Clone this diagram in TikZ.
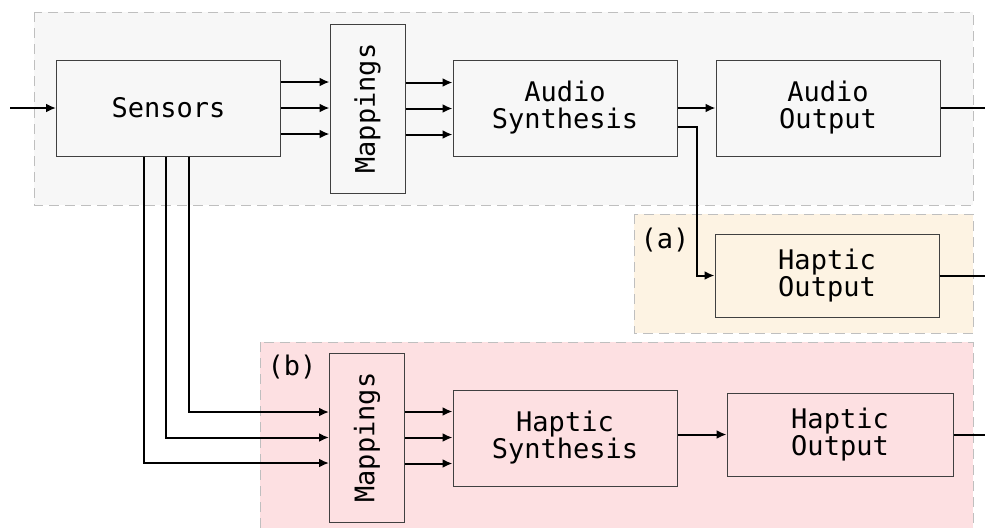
\documentclass[tikz,border=0pt]{standalone}
\usepackage{fontspec}
\usepackage{graphicx}
\newfontfamily\diagfont{DejaVu Sans Mono}
\usetikzlibrary{arrows.meta,positioning}

\definecolor{audiobg}{HTML}{F7F7F7}
\definecolor{hapticbg}{HTML}{FDF3E3}
\definecolor{mappedbg}{HTML}{FDE0E2}

\begin{document}
\begin{tikzpicture}[
  x=0.5pt, y=-0.5pt,
  box/.style={draw=black!75, line width=0.5pt, align=center, inner sep=0pt,
    font=\diagfont\fontsize{13.5}{13.5}\selectfont},
  wide/.style={box, minimum width=112pt, minimum height=48pt},
  flat/.style={box, minimum width=112pt, minimum height=41.5pt},
  map/.style={box, minimum width=37.5pt, minimum height=84.5pt},
  group/.style={draw=black!25, dash pattern=on 5pt off 3pt, line width=0.5pt},
  arrow/.style={-{Latex[length=5pt,width=4.5pt]}, line width=1pt},
  wire/.style={line width=1pt},
  tag/.style={font=\diagfont\fontsize{13.5}{13.5}\selectfont}
]
\useasboundingbox (0,0) rectangle (985,527);

% groups
\draw[group, fill=audiobg] (34,12) rectangle (973,205);
\draw[group, fill=hapticbg] (634,214) rectangle (973,333);
\draw[group, fill=mappedbg] (260,342) rectangle (973,540);
\node[tag] (taga) at (665,240) {(a)};
\node[tag] (tagb) at (292,367) {(b)};

% audio path
\node[wide] (sens) at (168.5,108) {Sensors};
\node[map] (mapa) at (367.5,108.5) {\rotatebox{90}{Mappings}};
\node[wide] (asyn) at (565,108) {Audio\\Synthesis};
\node[wide] (aout) at (828,108) {Audio\\Output};
\node[flat, fill=hapticbg] (hapa) at (827,275.5) {Haptic\\Output};

% haptic path
\node[map] (mapb) at (367,437.5) {\rotatebox{90}{Mappings}};
\node[wide] (hsyn) at (565,438) {Haptic\\Synthesis};
\node[flat, minimum width=113pt] (hapb) at (840,434.5) {Haptic\\Output};

\coordinate (in) at (10,108);
\coordinate (outa) at (985,108);
\coordinate (outb) at (985,275.5);
\coordinate (outc) at (985,434.5);

\draw[arrow] (in) -- (sens.west);
\foreach \s in {13pt,0pt,-13pt} {
  \draw[arrow] ([yshift=\s]sens.east) -- ([yshift=\s]sens.east -| mapa.west);
  \draw[arrow] ([yshift=\s]mapa.east) -- ([yshift=\s]mapa.east -| asyn.west);
  \draw[arrow] ([yshift=\s]mapb.east) -- ([yshift=\s]mapb.east -| hsyn.west);
}
\draw[arrow] (asyn.east) -- (aout.west);
\draw[arrow] ([yshift=-9.5pt]asyn.east) -- ++(9.5pt,0) |- (hapa.west);
\draw[arrow] (hsyn.east |- hapb.west) -- (hapb.west);

% sensor taps
\draw[arrow] ([xshift=10.25pt]sens.south) |- ([yshift=12.75pt]mapb.west);
\draw[arrow] ([xshift=-1.25pt]sens.south) |- (mapb.west);
\draw[arrow] ([xshift=-12.25pt]sens.south) |- ([yshift=-12.75pt]mapb.west);

% outputs
\draw[wire] (aout.east) -- (outa);
\draw[wire] (hapa.east) -- (outb);
\draw[wire] (hapb.east) -- (outc);
\end{tikzpicture}
\end{document}
